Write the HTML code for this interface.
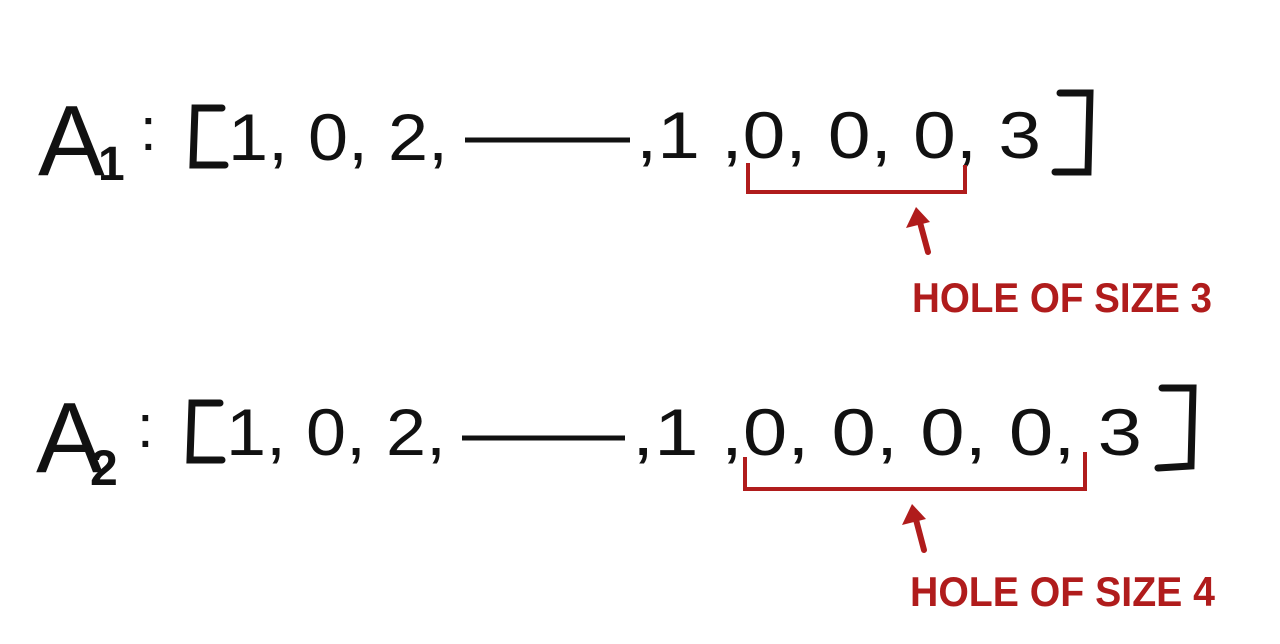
<!DOCTYPE html>
<html><head><meta charset="utf-8"><style>
html,body{margin:0;padding:0;background:#fff;width:1280px;height:644px;overflow:hidden}
svg text{font-family:"Liberation Sans",sans-serif}
</style></head><body>
<svg width="1280" height="644" viewBox="0 0 1280 644">
<g id="row1" fill="#111" stroke="none">
  <text x="38" y="175" font-size="100">A</text>
  <text x="98" y="180" font-size="48" font-weight="bold">1</text>
  <text x="140" y="150" font-size="60">:</text>
  <path d="M222 108 L195 108 L193 165 L225 165" fill="none" stroke="#111" stroke-width="7" stroke-linecap="round"/>
  <text x="228" y="160" font-size="66" textLength="220" lengthAdjust="spacingAndGlyphs">1, 0, 2,</text>
  <line x1="465" y1="140" x2="630" y2="140" stroke="#111" stroke-width="5"/>
  <text x="636" y="158" font-size="66" textLength="405" lengthAdjust="spacingAndGlyphs">,1 ,0, 0, 0, 3</text>
  <path d="M1060 93 L1090 93 L1088 172 L1055 172" fill="none" stroke="#111" stroke-width="7" stroke-linecap="round"/>
</g>
<g fill="#b01c1c">
  <path d="M748 163 L748 192 L965 192 L965 165" fill="none" stroke="#b01c1c" stroke-width="4"/>
  <path d="M928 252 L918 215" stroke="#b01c1c" stroke-width="6" fill="none" stroke-linecap="round"/>
  <path d="M906 228 L916 207 L930 222 Z"/>
  <text x="912" y="312" font-size="42" font-weight="bold" textLength="300" lengthAdjust="spacingAndGlyphs">HOLE OF SIZE 3</text>
</g>
<g id="row2" fill="#111">
  <text x="36" y="472" font-size="100">A</text>
  <text x="90" y="485" font-size="50" font-weight="bold">2</text>
  <text x="137" y="447" font-size="60">:</text>
  <path d="M220 403 L192 403 L190 460 L222 460" fill="none" stroke="#111" stroke-width="7" stroke-linecap="round"/>
  <text x="226" y="455" font-size="66" textLength="220" lengthAdjust="spacingAndGlyphs">1, 0, 2,</text>
  <line x1="462" y1="438" x2="625" y2="438" stroke="#111" stroke-width="5"/>
  <text x="632" y="455" font-size="66" textLength="510" lengthAdjust="spacingAndGlyphs">,1 ,0, 0, 0, 0, 3</text>
  <path d="M1162 388 L1193 388 L1191 466 L1158 468" fill="none" stroke="#111" stroke-width="7" stroke-linecap="round"/>
</g>
<g fill="#b01c1c">
  <path d="M745 457 L745 489 L1085 489 L1085 452" fill="none" stroke="#b01c1c" stroke-width="4"/>
  <path d="M924 550 L914 512" stroke="#b01c1c" stroke-width="6" fill="none" stroke-linecap="round"/>
  <path d="M902 525 L912 504 L926 519 Z"/>
  <text x="910" y="606" font-size="42" font-weight="bold" textLength="305" lengthAdjust="spacingAndGlyphs">HOLE OF SIZE 4</text>
</g>
</svg>
</body></html>
